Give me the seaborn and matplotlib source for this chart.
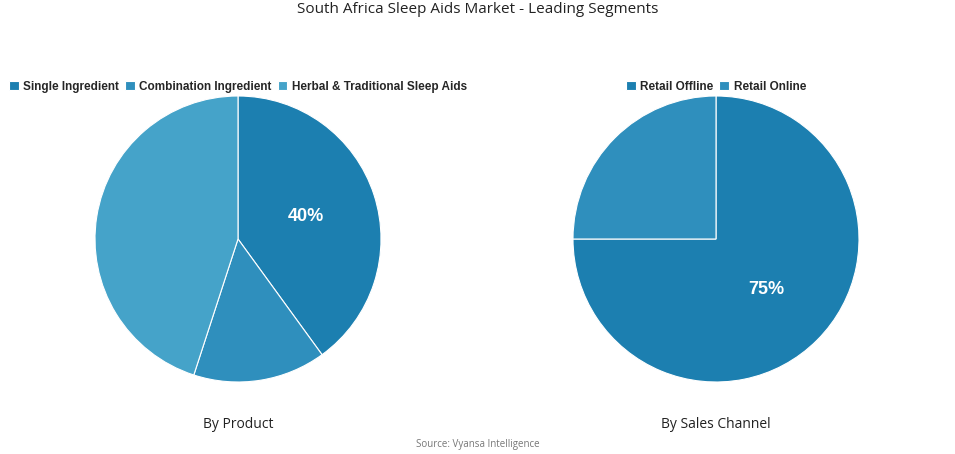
import matplotlib
matplotlib.use("Agg")
import matplotlib.pyplot as plt
import numpy as np
import seaborn as sns

sns.set_theme(style="white")
plt.rcParams['font.family'] = ['Liberation Sans', 'DejaVu Sans']

product_labels = ['Single Ingredient', 'Combination Ingredient', 'Herbal & Traditional Sleep Aids']
product_values = [40, 15, 45]
channel_labels = ['Retail Offline', 'Retail Online']
channel_values = [75, 25]

blues = ['#1c7fb0', '#2f8fbd', '#45a3c9']

fig = plt.figure(figsize=(9.55, 4.54), dpi=100)
fig.text(0.5, 0.978, 'South Africa Sleep Aids Market - Leading Segments', ha='center', va='center',
         fontsize=11, family=['Open Sans', 'DejaVu Sans'], color='#222222')


def draw(center_x, values, labels, title):
    r = 143
    ax = fig.add_axes([(center_x - r) / 955, (454 - 239 - r) / 454, 2 * r / 955, 2 * r / 454])
    wedges, texts = ax.pie(values, colors=blues[:len(values)], startangle=90, counterclock=False,
                           wedgeprops=dict(edgecolor='white', linewidth=0.8))
    ax.set_aspect('auto')
    ax.set_xlim(-1, 1)
    ax.set_ylim(-1, 1)
    # label only the first slice
    w = wedges[0]
    mid = np.deg2rad((w.theta1 + w.theta2) / 2)
    ax.text(0.5 * np.cos(mid), 0.5 * np.sin(mid), f'{values[0]}%', ha='center', va='center',
            color='white', fontsize=13, fontweight='bold')
    ax.legend(wedges, labels, loc='center', bbox_to_anchor=(0.5, 1.033), ncol=len(labels),
              frameon=False, handlelength=0.8, handleheight=0.8, handletextpad=0.4, columnspacing=0.5,
              borderpad=0, prop=dict(weight='bold', size=8.5))
    fig.text(center_x / 955, 1 - 425 / 454, title, ha='center', va='center', fontsize=10,
             family=['Open Sans', 'DejaVu Sans'], color='#222222')


draw(238, product_values, product_labels, 'By Product')
draw(716, channel_values, channel_labels, 'By Sales Channel')

fig.text(0.5, 1 - 444 / 454, 'Source: Vyansa Intelligence', ha='center', va='center', fontsize=7,
         family=['Open Sans', 'DejaVu Sans'], color='#777777')

fig.savefig('out.png', dpi=100)
